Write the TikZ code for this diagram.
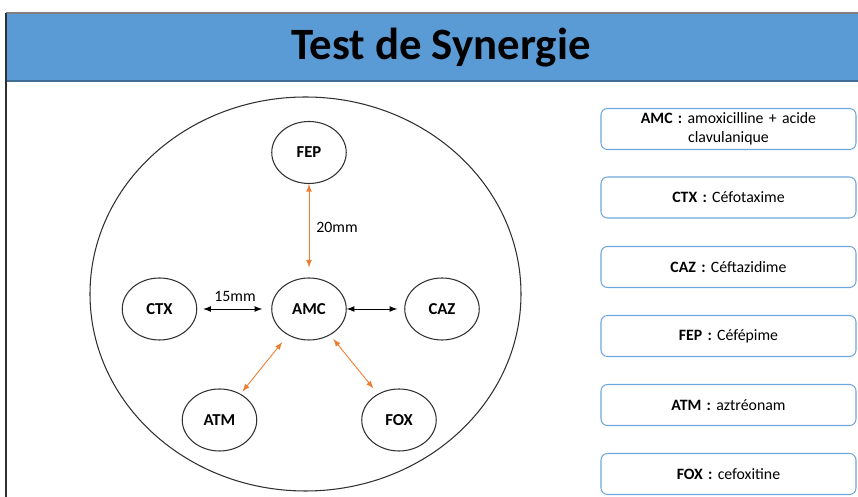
\documentclass[tikz,border=0pt]{standalone}
\usepackage{fontspec}
\setmainfont{Carlito}
\usepackage{xcolor}
\usepackage{tikz}
\usetikzlibrary{arrows,shapes.geometric,positioning}
\definecolor{headblue}{HTML}{5B9BD5}
\definecolor{boxblue}{HTML}{6FA6DC}
\definecolor{synorange}{HTML}{ED7D31}
\definecolor{inkgray}{HTML}{303030}

\tikzset{
  disk/.style={ellipse, draw=inkgray, line width=0.6pt, minimum width=1.49cm,
    minimum height=1.24cm, inner sep=0pt, font=\fontsize{9.5}{11}\selectfont\bfseries},
  legendbox/.style={draw=boxblue, line width=0.6pt, rounded corners=0.13cm,
    minimum width=5.1cm, minimum height=0.82cm, text width=4.9cm, align=center,
    inner sep=0pt, font=\fontsize{9}{10.8}\selectfont},
  gap/.style={<->, >=latex, line width=0.5pt},
}

\begin{document}
\begin{tikzpicture}
            \useasboundingbox (0,0) rectangle (17.16,-9.94);
            % title bar
            \fill[headblue] (0.12,-0.26) rectangle (17.16,-1.62);
            \draw[gray, line width=0.6pt] (0.12,-0.26) -- (17.16,-0.26);
            \draw[headblue!70!black, line width=0.6pt] (0.12,-1.62) -- (17.16,-1.62);
            \draw[inkgray, line width=0.6pt] (0.12,-0.26) -- (0.12,-9.94);
            \node (title) at (8.82,-0.95) {\fontsize{25.5}{30}\selectfont\bfseries Test de Synergie};

            % petri dish
            \node[ellipse, draw=inkgray, line width=0.6pt, minimum width=8.62cm,
              minimum height=7.88cm] (plate) at (6.11,-5.88) {};
            \node[disk] (fep) at (6.18,-3.05) {FEP};
            \node[disk] (amc) at (6.18,-6.18) {AMC};
            \node[disk] (ctx) at (3.19,-6.18) {CTX};
            \node[disk] (caz) at (8.84,-6.18) {CAZ};
            \node[disk] (atm) at (4.39,-8.40) {ATM};
            \node[disk] (fox) at (7.98,-8.40) {FOX};

            \draw[gap, synorange] (fep) -- (amc) [shorten >=0.2cm];
            \draw[gap, shorten <=0.12cm, shorten >=0.18cm] (ctx) -- (amc);
            \draw[gap, shorten >=0.14cm] (amc) -- (caz);
            \draw[gap, synorange, shorten <=0.06cm, shorten >=0.18cm] (atm) -- (amc);
            \draw[gap, synorange, shorten <=0.1cm, shorten >=0.14cm] (amc) -- (fox);
            \node[font=\fontsize{9}{11}\selectfont] (lbl20) at (6.74,-4.54) {20mm};
            \node[font=\fontsize{9}{11}\selectfont] (lbl15) at (4.70,-5.92) {15mm};

            % legend
            \node[legendbox] (kamc) at (14.57,-2.58) {\textbf{AMC :} amoxicilline + acide\\clavulanique};
            \node[legendbox] (kctx) at (14.57,-3.95) {\textbf{CTX :} Céfotaxime};
            \node[legendbox] (kcaz) at (14.57,-5.34) {\textbf{CAZ :} Céftazidime};
            \node[legendbox] (kfep) at (14.57,-6.72) {\textbf{FEP :} Céfépime};
            \node[legendbox] (katm) at (14.57,-8.10) {\textbf{ATM :} aztréonam};
            \node[legendbox] (kfox) at (14.57,-9.48) {\textbf{FOX :} cefoxitine};
\end{tikzpicture}
\end{document}
